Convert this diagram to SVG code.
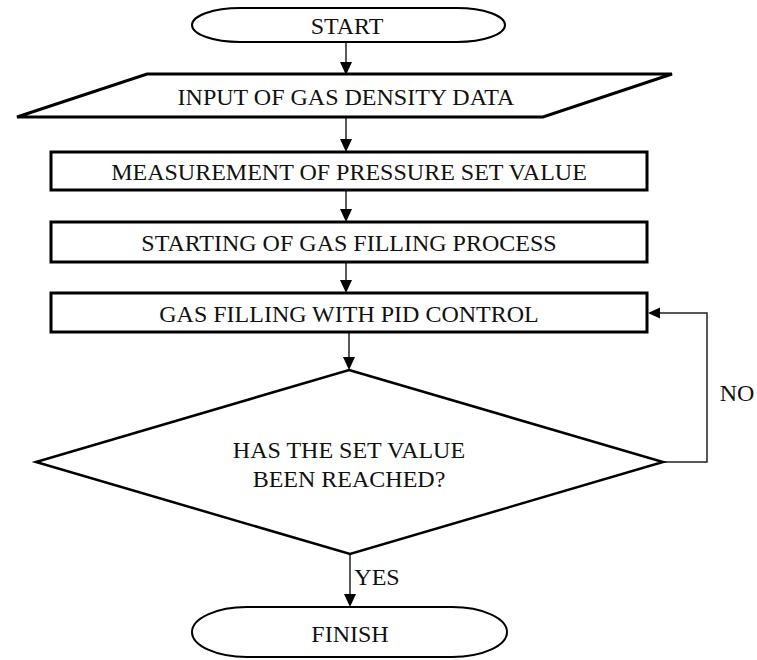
<svg xmlns="http://www.w3.org/2000/svg" width="757" height="660" viewBox="0 0 757 660">
  <style>
    .lbl { font-family: "Liberation Serif", "Times New Roman", serif; font-size: 24px; fill: #111; text-anchor: middle; }
    .box { fill: #fff; stroke: #000; stroke-width: 3; }
    .term { fill: #fff; stroke: #000; stroke-width: 2; }
    .dec { fill: #fff; stroke: #000; stroke-width: 2.5; stroke-linejoin: miter; }
    .conn { fill: none; stroke: #222; stroke-width: 1.5; }
    .head { fill: #000; }
  </style>
  <rect width="757" height="660" fill="#fff"/>

  <g id="connectors">
    <line class="conn" x1="346" y1="42" x2="346" y2="64"/>
    <line class="conn" x1="346" y1="117" x2="346" y2="141"/>
    <line class="conn" x1="346" y1="190" x2="346" y2="211"/>
    <line class="conn" x1="346" y1="262" x2="346" y2="282"/>
    <line class="conn" x1="349" y1="332" x2="349" y2="359"/>
    <polyline class="conn" points="663,462 707,462 707,313 658,313"/>
    <line class="conn" x1="350" y1="554" x2="350" y2="595"/>
    <!-- arrowheads -->
    <path class="head" d="M340,62 L352,62 L346,75 Z"/>
    <path class="head" d="M340,139 L352,139 L346,152 Z"/>
    <path class="head" d="M340,209 L352,209 L346,222 Z"/>
    <path class="head" d="M340,280 L352,280 L346,293 Z"/>
    <path class="head" d="M343,357 L355,357 L349,370 Z"/>
    <path class="head" d="M660,307.5 L660,318.5 L648,313 Z"/>
    <path class="head" d="M344,594 L356,594 L350,607 Z"/>
    <text class="lbl" x="737" y="401">NO</text>
    <text class="lbl" x="377" y="585">YES</text>
  </g>

  <g id="start">
    <rect class="term" x="192" y="8" width="313" height="34" rx="48" ry="17"/>
    <text class="lbl" x="347" y="34">START</text>
  </g>

  <g id="input">
    <polygon class="box" points="147,74 672,74 543,117 17,117"/>
    <text class="lbl" x="346" y="105">INPUT OF GAS DENSITY DATA</text>
  </g>

  <g id="measure">
    <rect class="box" x="51" y="152" width="596" height="38"/>
    <text class="lbl" x="349" y="180">MEASUREMENT OF PRESSURE SET VALUE</text>
  </g>

  <g id="starting">
    <rect class="box" x="51" y="222" width="596" height="40"/>
    <text class="lbl" x="349" y="251">STARTING OF GAS FILLING PROCESS</text>
  </g>

  <g id="pid">
    <rect class="box" x="51" y="293" width="596" height="39"/>
    <text class="lbl" x="349" y="322">GAS FILLING WITH PID CONTROL</text>
  </g>

  <g id="decision">
    <polygon class="dec" points="349,370 663,462 350,554 36,462"/>
    <text class="lbl" x="349" y="458">HAS THE SET VALUE</text>
    <text class="lbl" x="349" y="487">BEEN REACHED?</text>
  </g>

  <g id="finish">
    <rect class="term" x="192" y="607" width="315" height="50" rx="55" ry="25"/>
    <text class="lbl" x="350" y="642">FINISH</text>
  </g>
</svg>
